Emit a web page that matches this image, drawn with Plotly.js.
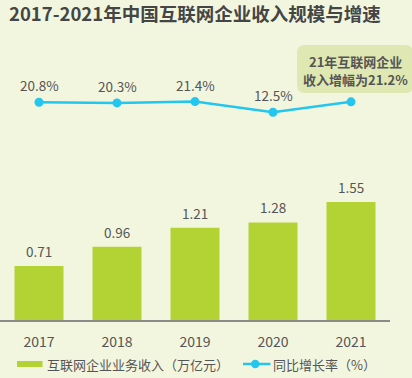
<!DOCTYPE html>
<html>
<head>
<meta charset="utf-8">
<script src="https://cdn.plot.ly/plotly-3.0.1.min.js"></script>
<style>html,body{margin:0;padding:0;background:#f2f6df;}#chart{width:412px;height:378px;}</style>
</head>
<body>
<div id="chart"></div>
<script>
const years = ['2017', '2018', '2019', '2020', '2021'];
const revenue = [0.71, 0.96, 1.21, 1.28, 1.55];
const growth = [20.8, 20.3, 21.4, 12.5, 21.2];
const revenueLabels = ['0.71', '0.96', '1.21', '1.28', '1.55'];
// 2021's growth is shown in the callout instead of a point label
const growthLabels = ['20.8%', '20.3%', '21.4%', '12.5%', ''];
const seriesNames = ['互联网企业业务收入（万亿元）', '同比增长率（%）'];
const titleText = '2017-2021年中国互联网企业收入规模与增速';
const calloutLines = ['21年互联网企业', '收入增幅为21.2%'];

const FONT = '"Noto Sans CJK SC", "Noto Sans", sans-serif';
const GREEN = '#b3d234';
const CYAN = '#22c6ef';
const TXT = '#555555';

// plot area: x 0..390 px, y 60..320 px
const px = v => v / 390;
const py = v => (320 - v) / 260;

const traces = [
  {
    type: 'bar', x: years, y: revenue, name: seriesNames[0],
    marker: {color: GREEN}, hoverinfo: 'skip', showlegend: false
  },
  {
    type: 'scatter', mode: 'lines+markers', x: years, y: growth, yaxis: 'y2',
    name: seriesNames[1], line: {color: CYAN, width: 2.5},
    marker: {color: CYAN, size: 9}, hoverinfo: 'skip', showlegend: false
  }
];

const annotations = [];
years.forEach((yr, i) => {
  // category index i positions the label over its category
  annotations.push({x: i, y: revenue[i], xref: 'x', yref: 'y', text: revenueLabels[i],
    showarrow: false, yanchor: 'bottom', yshift: 3, font: {family: FONT, size: 13.5, color: TXT}});
  if (growthLabels[i]) {
    annotations.push({x: i, y: growth[i], xref: 'x', yref: 'y2', text: growthLabels[i],
      showarrow: false, yanchor: 'bottom', yshift: 5, font: {family: FONT, size: 13.5, color: TXT}});
  }
});
// callout (two lines)
annotations.push({x: px(355), y: py(62), xref: 'paper', yref: 'paper', text: calloutLines[0],
  showarrow: false, xanchor: 'center', yanchor: 'middle',
  font: {family: FONT, size: 13, color: TXT, weight: 'bold'}});
annotations.push({x: px(355), y: py(80), xref: 'paper', yref: 'paper', text: calloutLines[1],
  showarrow: false, xanchor: 'center', yanchor: 'middle',
  font: {family: FONT, size: 13, color: TXT, weight: 'bold'}});
// legend texts
annotations.push({x: px(45), y: py(364), xref: 'paper', yref: 'paper', text: seriesNames[0],
  showarrow: false, xanchor: 'left', yanchor: 'middle', font: {family: FONT, size: 13, color: TXT}});
annotations.push({x: px(271), y: py(364), xref: 'paper', yref: 'paper', text: seriesNames[1],
  showarrow: false, xanchor: 'left', yanchor: 'middle', font: {family: FONT, size: 13, color: TXT}});

function roundRect(x0, y0, x1, y1, r) {
  const X0 = px(x0), X1 = px(x1), Y0 = py(y0), Y1 = py(y1);
  const rx = r / 390, ry = r / 260;
  return `M${X0 + rx},${Y0} L${X1 - rx},${Y0} Q${X1},${Y0} ${X1},${Y0 - ry} L${X1},${Y1 + ry} Q${X1},${Y1} ${X1 - rx},${Y1} L${X0 + rx},${Y1} Q${X0},${Y1} ${X0},${Y1 + ry} L${X0},${Y0 - ry} Q${X0},${Y0} ${X0 + rx},${Y0} Z`;
}

const shapes = [
  {type: 'path', xref: 'paper', yref: 'paper', path: roundRect(297, 45, 413, 93, 8),
    fillcolor: '#dfe8b3', line: {width: 0}, layer: 'below'},
  {type: 'rect', xref: 'paper', yref: 'paper', x0: px(17), x1: px(42.5), y0: py(361), y1: py(367),
    fillcolor: GREEN, line: {width: 0}},
  {type: 'line', xref: 'paper', yref: 'paper', x0: px(243), x1: px(270.5), y0: py(364), y1: py(364),
    line: {color: CYAN, width: 2.5}},
  {type: 'circle', xref: 'paper', yref: 'paper', x0: px(251), x1: px(259.5), y0: py(359.8), y1: py(368.2),
    fillcolor: CYAN, line: {width: 0}}
];

const hiddenAxis = {showticklabels: false, showline: false, ticks: '', showgrid: false, zeroline: false, fixedrange: true};

const layout = {
  width: 412, height: 378,
  margin: {l: 0, r: 22, t: 60, b: 58},
  paper_bgcolor: '#f2f6df', plot_bgcolor: 'rgba(0,0,0,0)',
  font: {family: FONT, color: TXT},
  title: {text: titleText, xref: 'container', yref: 'container', x: 9 / 412, xanchor: 'left',
    y: 1 - 15 / 378, yanchor: 'middle', font: {family: FONT, size: 18.5, color: '#454545', weight: 'bold'}},
  bargap: 0.372,
  xaxis: {type: 'category', range: [-0.5, 4.5], showline: true, linecolor: '#8a8a8a', linewidth: 1.5,
    ticks: '', showgrid: false, zeroline: false, ticklabelstandoff: 9,
    tickfont: {family: FONT, size: 14, color: TXT}, fixedrange: true},
  yaxis: Object.assign({range: [0, 3.412]}, hiddenAxis),
  yaxis2: Object.assign({range: [-160.6, 56.05], overlaying: 'y', side: 'right'}, hiddenAxis),
  showlegend: false,
  annotations: annotations,
  shapes: shapes
};

Plotly.newPlot('chart', traces, layout, {staticPlot: true, displayModeBar: false});
</script>
</body>
</html>
